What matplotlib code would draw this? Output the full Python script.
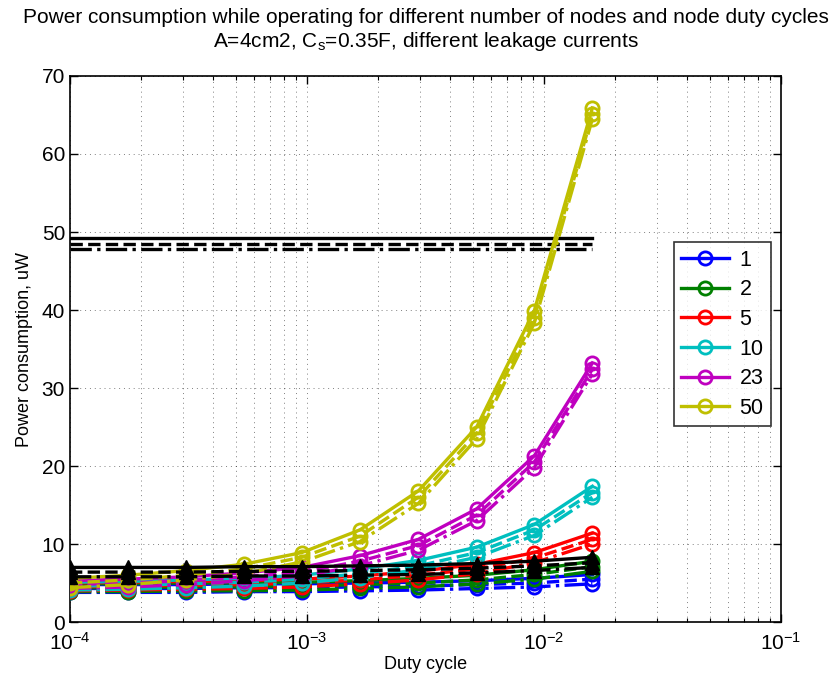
import matplotlib
matplotlib.use("Agg")
import matplotlib.pyplot as plt
from matplotlib.ticker import LogLocator, FixedLocator

plt.rcParams["font.family"] = ["Liberation Sans", "DejaVu Sans"]
plt.rcParams["mathtext.fontset"] = "custom"
plt.rcParams["mathtext.rm"] = "Liberation Sans"
plt.rcParams["mathtext.it"] = "Liberation Sans:italic"

# duty cycles (x positions of markers)
duty = [1.0e-4, 1.76e-4, 3.1e-4, 5.4e-4, 9.5e-4, 1.67e-3, 2.95e-3, 5.2e-3, 9.1e-3, 1.6e-2]

nodes = ["1", "2", "5", "10", "23", "50"]
colors = ["#0000ff", "#008000", "#ff0000", "#00bfbf", "#bf00bf", "#bfbf00"]

# power (uW) per node count, three leakage currents: solid / dashed / dash-dot
p_1 = [
    [4.8, 4.8, 4.8, 4.9, 4.9, 5.0, 5.1, 5.3, 5.6, 6.1],
    [4.3, 4.3, 4.3, 4.4, 4.4, 4.5, 4.6, 4.8, 5.0, 5.5],
    [3.8, 3.8, 3.8, 3.9, 3.9, 4.0, 4.1, 4.3, 4.5, 4.9],
]
p_2 = [
    [4.9, 4.9, 5.0, 5.0, 5.1, 5.3, 5.6, 6.0, 6.7, 7.8],
    [4.4, 4.4, 4.5, 4.5, 4.6, 4.8, 5.0, 5.4, 6.1, 7.1],
    [3.9, 3.9, 4.0, 4.0, 4.1, 4.3, 4.5, 4.9, 5.5, 6.5],
]
p_5 = [
    [5.0, 5.1, 5.2, 5.3, 5.5, 5.9, 6.5, 7.4, 8.9, 11.4],
    [4.5, 4.6, 4.7, 4.8, 5.0, 5.4, 6.0, 6.8, 8.2, 10.6],
    [4.0, 4.1, 4.2, 4.3, 4.5, 4.9, 5.4, 6.2, 7.6, 10.0],
]
p_10 = [
    [5.1, 5.2, 5.4, 5.6, 6.0, 6.8, 7.9, 9.6, 12.5, 17.4],
    [4.6, 4.7, 4.9, 5.1, 5.5, 6.2, 7.2, 8.9, 11.8, 16.6],
    [4.1, 4.2, 4.4, 4.6, 5.0, 5.7, 6.7, 8.3, 11.1, 16.0],
]
p_23 = [
    [5.3, 5.5, 5.8, 6.3, 7.0, 8.5, 10.6, 14.5, 21.3, 33.2],
    [4.8, 5.0, 5.3, 5.8, 6.4, 7.8, 9.8, 13.7, 20.5, 32.4],
    [4.3, 4.5, 4.8, 5.3, 5.9, 7.2, 9.2, 13.0, 19.8, 31.8],
]
p_50 = [
    [5.6, 6.0, 6.6, 7.4, 8.9, 11.8, 16.8, 25.0, 39.9, 65.9],
    [5.0, 5.4, 6.0, 6.8, 8.3, 11.0, 16.0, 24.2, 39.0, 65.1],
    [4.4, 4.8, 5.4, 6.2, 7.7, 10.3, 15.2, 23.5, 38.3, 64.5],
]
series = [p_1, p_2, p_5, p_10, p_23, p_50]

# black reference curves (triangles) and flat black levels
p_ref = [
    [7.0, 7.0, 7.0, 7.1, 7.1, 7.2, 7.3, 7.5, 7.8, 8.3],
    [6.4, 6.4, 6.4, 6.5, 6.5, 6.6, 6.7, 6.9, 7.2, 7.6],
    [5.8, 5.8, 5.8, 5.9, 5.9, 6.0, 6.1, 6.3, 6.6, 7.0],
]
p_flat = [49.2, 48.5, 47.8]

styles = ["-", "--", "-."]

fig = plt.figure(figsize=(8.31, 6.84), dpi=100)
ax = fig.add_axes([0.0842, 0.0906, 0.8556, 0.7983])

for lvl, ls in zip(p_flat, styles):
    ax.plot([duty[0], duty[-1]], [lvl, lvl], color="k", ls=ls, lw=2.4, zorder=2)

handles = []
for vals, col, lab in zip(series, colors, nodes):
    for k, (v, ls) in enumerate(zip(vals, styles)):
        h, = ax.plot(duty, v, color=col, ls=ls, lw=2.4, marker="o", ms=9.5,
                     mfc="none", mew=2, zorder=3)
        if k == 0:
            h.set_label(lab)
            handles.append(h)

for v, ls in zip(p_ref, styles):
    ax.plot(duty, v, color="k", ls=ls, lw=2.4, marker="^", ms=10,
            mfc="k", mec="k", zorder=4)

ax.set_xscale("log")
ax.set_xlim(1e-4, 1e-1)
ax.set_ylim(0, 70)
ax.set_yticks(range(0, 71, 10))
ax.xaxis.set_major_locator(FixedLocator([1e-4, 1e-3, 1e-2, 1e-1]))
ax.xaxis.set_minor_locator(LogLocator(base=10, subs=range(2, 10)))
ax.set_xticklabels([r"$10^{-4}$", r"$10^{-3}$", r"$10^{-2}$", r"$10^{-1}$"])

ax.grid(True, which="major", ls=(0, (1, 4)), color="k", lw=0.7, alpha=0.5)
ax.grid(True, which="minor", axis="x", ls=(0, (1, 4)), color="k", lw=0.7, alpha=0.5)
ax.tick_params(which="both", direction="in", top=True, right=True, labelsize=15)
ax.tick_params(axis="x", which="major", pad=7)
ax.tick_params(which="major", length=6, width=1)
ax.tick_params(which="minor", length=3, width=0.8)
for s in ax.spines.values():
    s.set_linewidth(1.2)

ax.set_xlabel("Duty cycle", fontsize=13, labelpad=2)
ax.set_ylabel("Power consumption, uW", fontsize=13, labelpad=6)
ax.set_title("Power consumption while operating for different number of nodes and node duty cycles\n"
             r"A=4cm2, C$_\mathrm{s}$=0.35F, different leakage currents",
             fontsize=15, pad=21, linespacing=1.15)

leg = ax.legend(handles=handles, loc="center right", bbox_to_anchor=(1.001, 0.527),
                fontsize=15.5, frameon=True, fancybox=False, edgecolor="k",
                handlelength=2.2, borderpad=0.35, labelspacing=0.4, handletextpad=0.5)
leg.get_frame().set_linewidth(1.2)

fig.savefig("out.png", dpi=100)
